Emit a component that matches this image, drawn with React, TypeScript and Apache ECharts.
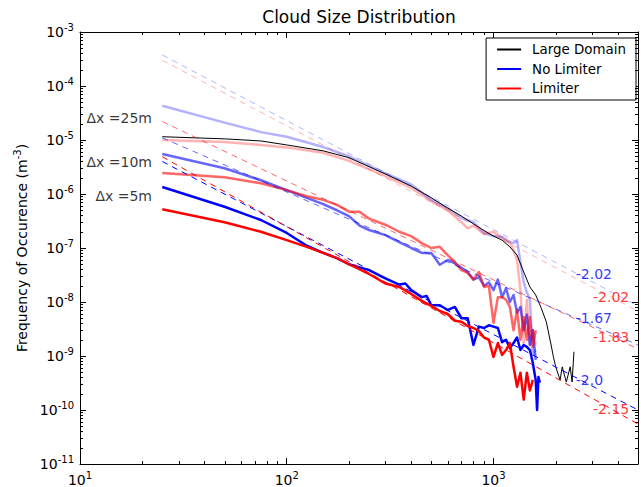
import React, { useEffect, useRef } from 'react';
import * as echarts from 'echarts';

// ---------------- data (x = cloud size, y = frequency of occurrence) ----------------
const largeX = [25, 50, 75, 100, 150, 200, 300, 400, 500, 600, 700, 800, 900, 1000, 1100, 1200, 1300, 1400, 1500, 1600, 1700, 1800, 1900, 1950, 2000, 2100, 2150, 2250, 2350, 2400, 2450];
const largeY = [1.15e-5, 1.05e-5, 9.6e-6, 8.1e-6, 6.3e-6, 4.7e-6, 2.35e-6, 1.4e-6, 8.5e-7, 5.5e-7, 3.9e-7, 2.8e-7, 2.1e-7, 1.66e-7, 1.4e-7, 1.05e-7, 7.4e-8, 3.6e-8, 1.9e-8, 1.35e-8, 7.8e-9, 4.3e-9, 1.6e-9, 9.5e-10, 6.3e-10, 3.6e-10, 6.3e-10, 3.3e-10, 6.3e-10, 3.3e-10, 1.2e-9];

const noLim25X = [25, 50, 75, 100, 150, 200, 300, 400, 500, 600, 700, 800, 900, 1000, 1100, 1200, 1250, 1300, 1350, 1400, 1450, 1500, 1550, 1600];
const noLim25Y = [4.3e-5, 2.1e-5, 1.4e-5, 1.15e-5, 7.4e-6, 5.0e-6, 2.4e-6, 1.5e-6, 7.8e-7, 5.5e-7, 3.6e-7, 3.0e-7, 1.9e-7, 1.66e-7, 1.6e-7, 1.29e-7, 1.23e-7, 1.4e-7, 5.5e-8, 2.3e-8, 1.5e-8, 1.1e-8, 1.05e-9, 1.3e-9];

const lim25X = [25, 50, 75, 100, 150, 200, 300, 400, 500, 600, 700, 750, 800, 900, 1000, 1100, 1200, 1250, 1300, 1350, 1400, 1450, 1500, 1550, 1600];
const lim25Y = [1.0e-5, 9.2e-6, 8.1e-6, 7.3e-6, 5.8e-6, 4.1e-6, 2.15e-6, 1.3e-6, 7.4e-7, 5.0e-7, 3.0e-7, 2.3e-7, 2.6e-7, 1.8e-7, 2.0e-7, 1.55e-7, 1.23e-7, 9.1e-8, 6.0e-8, 1.66e-8, 1.74e-9, 1.1e-8, 1.6e-9, 3.0e-9, 1.6e-9];

const mid10X = [25, 50, 75, 100, 125, 150, 175, 200, 225, 250, 300, 350, 400, 450, 500, 550, 600, 650, 700, 750, 800, 850, 900, 950, 1000, 1050, 1100, 1150, 1200, 1250, 1300, 1350, 1400, 1450, 1500, 1550, 1600];
const noLim10Y = [5.5e-6, 3.0e-6, 1.8e-6, 1.18e-6, 8.5e-7, 6.5e-7, 5.0e-7, 3.9e-7, 2.6e-7, 2.15e-7, 1.73e-7, 1.29e-7, 1.0e-7, 8.1e-8, 8.1e-8, 4.9e-8, 6.0e-8, 5.2e-8, 4.3e-8, 3.6e-8, 2.6e-8, 2.9e-8, 2.0e-8, 2.3e-8, 1.66e-8, 2.6e-8, 1.23e-8, 1.8e-8, 1.0e-8, 1.35e-8, 6.3e-9, 8.1e-9, 3.0e-9, 5.8e-9, 1.6e-9, 3.0e-9, 8.5e-10];
const lim10Y = [2.45e-6, 2.05e-6, 1.58e-6, 1.18e-6, 9.1e-7, 7.8e-7, 6.3e-7, 4.7e-7, 4.7e-7, 3.5e-7, 2.7e-7, 2.0e-7, 1.66e-7, 1.23e-7, 1.0e-7, 1.05e-7, 7.4e-8, 5.5e-8, 3.9e-8, 3.45e-8, 2.6e-8, 3.6e-8, 1.9e-8, 2.0e-8, 4.1e-9, 1.23e-8, 1.23e-8, 1.1e-8, 8.1e-9, 3.0e-9, 7.1e-9, 2.0e-9, 5.3e-9, 2.0e-9, 5.3e-9, 1.48e-9, 3.0e-9];

const noLim5X = [25, 50, 75, 100, 125, 150, 175, 200, 250, 300, 350, 375, 400, 450, 475, 500, 550, 600, 650, 700, 750, 800, 850, 900, 950, 1000, 1050, 1100, 1150, 1200, 1250, 1300, 1350, 1400, 1450, 1500, 1550, 1600, 1625, 1650, 1675];
const noLim5Y = [1.35e-6, 5.8e-7, 3.3e-7, 1.9e-7, 1.1e-7, 8.1e-8, 6.5e-8, 5.0e-8, 3.9e-8, 2.75e-8, 2.1e-8, 2.2e-8, 1.66e-8, 1.23e-8, 1.29e-8, 8.7e-9, 8.7e-9, 7.1e-9, 8.1e-9, 5.0e-9, 5.0e-9, 1.6e-9, 3.5e-9, 3.3e-9, 3.7e-9, 3.5e-9, 3.3e-9, 1.8e-9, 2.0e-9, 1.4e-9, 1.74e-9, 2.2e-9, 1.29e-9, 1.6e-9, 1.48e-9, 1.29e-9, 7.4e-10, 3.6e-10, 1.0e-10, 4.1e-10, 3.2e-10];

const lim5X = [25, 50, 75, 100, 125, 150, 175, 200, 250, 300, 350, 400, 450, 500, 550, 600, 650, 700, 750, 800, 850, 900, 950, 1000, 1050, 1100, 1150, 1200, 1250, 1300, 1350, 1400, 1450, 1500, 1550];
const lim5Y = [5.2e-7, 3.0e-7, 2.0e-7, 1.4e-7, 1.05e-7, 8.1e-8, 6.5e-8, 5.0e-8, 3.3e-8, 2.2e-8, 1.9e-8, 1.41e-8, 1.05e-8, 8.5e-9, 6.8e-9, 6.0e-9, 4.5e-9, 4.3e-9, 3.6e-9, 3.3e-9, 2.9e-9, 2.2e-9, 2.0e-9, 9.6e-10, 1.74e-9, 1.05e-9, 1.29e-9, 1.74e-9, 6.3e-10, 2.7e-10, 4.9e-10, 1.55e-10, 4.9e-10, 2.3e-10, 3.6e-10];

// power-law fits: endpoints at x = 25 and x = 5000
const fitX = [25, 5000];
const fitNoLim25 = [3.76e-4, 8.45e-9];
const fitLim25 = [3.0e-4, 6.76e-9];
const fitNoLim10 = [1.1e-5, 1.6e-9];
const fitLim10 = [2.2e-5, 1.35e-9];
const fitNoLim5 = [4.0e-6, 1.0e-10];
const fitLim5 = [4.9e-6, 5.5e-11];

const slopeLabels = ['-2.02', '-2.02', '-1.67', '-1.83', '-2.0', '-2.15'];
const resolutionLabels = ['\u0394x =25m', '\u0394x =10m', '\u0394x =5m'];

// ---------------- helpers ----------------
const FONT = 'DejaVu Sans';
const X_MIN = 1;
const X_MAX = Math.log10(5000);
const Y_MIN = -11;
const Y_MAX = -3;
const lg = (v: number) => Math.log10(v);
const pairs = (xs: number[], ys: number[]) => xs.map((x, i) => [lg(x), lg(ys[i])]);

const BLUE = ['rgba(0,0,255,0.3)', 'rgba(0,0,255,0.6)', 'rgba(0,0,255,1)'];
const RED = ['rgba(255,0,0,0.3)', 'rgba(255,0,0,0.6)', 'rgba(255,0,0,1)'];

const solid = (name: string, xs: number[], ys: number[], color: string, width: number, z = 2) => ({
  name,
  type: 'line',
  data: pairs(xs, ys),
  showSymbol: false,
  symbol: 'none',
  z,
  lineStyle: { color, width, cap: 'butt', join: 'round' },
  itemStyle: { color },
  emphasis: { disabled: true },
});

const dashed = (name: string, ys: number[], color: string) => ({
  name,
  type: 'line',
  data: pairs(fitX, ys),
  showSymbol: false,
  symbol: 'none',
  z: 4,
  lineStyle: { color, width: 1, type: [6, 5] },
  itemStyle: { color },
  emphasis: { disabled: true },
});

const powLabel = (v: number) => `{b|10}{s|${Math.round(v)}}`;
const labelRich = {
  b: { fontSize: 14, fontFamily: FONT, color: '#000' },
  s: { fontSize: 10, fontFamily: FONT, color: '#000', padding: [0, 0, 9, 0] },
};

const minorXs: number[] = [];
for (let d = 1; d <= 3; d++) for (let m = 2; m <= 9; m++) {
  const v = lg(m * Math.pow(10, d));
  if (v < X_MAX - 1e-6) minorXs.push(v);
}
const minorYs: number[] = [];
for (let d = -11; d <= -4; d++) for (let m = 2; m <= 9; m++) minorYs.push(lg(m * Math.pow(10, d)));

export default function App() {
  const ref = useRef<HTMLDivElement>(null);
  useEffect(() => {
    document.body.style.margin = '0';
    if (!ref.current) return;
    const chart = echarts.init(ref.current, undefined, { renderer: 'svg' });

    const tickStyle = { color: '#000', width: 1 };
    const option: any = {
      animation: false,
      backgroundColor: '#fff',
      title: {
        text: 'Cloud Size Distribution',
        left: 359,
        top: 8,
        padding: 0,
        textAlign: 'center',
        textStyle: { fontFamily: FONT, fontSize: 17, fontWeight: 'normal', color: '#000' },
      },
      grid: { left: 80, right: 3, top: 32, bottom: 23, containLabel: false },
      legend: {
        data: ['Large Domain', 'No Limiter', 'Limiter'],
        orient: 'vertical',
        right: 5,
        top: 38,
        itemWidth: 24,
        itemHeight: 14,
        itemGap: 6.5,
        padding: [5, 10, 5, 10],
        borderColor: '#000',
        borderWidth: 1,
        borderRadius: 0,
        backgroundColor: '#fff',
        selectedMode: false,
        itemStyle: { opacity: 0 },
        textStyle: { fontFamily: FONT, fontSize: 13.4, color: '#000', padding: [0, 0, 0, 6] },
      },
      xAxis: [
        {
          type: 'value', min: X_MIN, max: X_MAX, interval: 1,
          axisLine: { lineStyle: tickStyle },
          axisTick: { inside: true, length: 6, lineStyle: tickStyle },
          splitLine: { show: false },
          axisLabel: { formatter: powLabel, showMaxLabel: false, margin: 6, rich: labelRich },
        },
        {
          type: 'value', position: 'top', min: X_MIN, max: X_MAX, interval: 1,
          axisLine: { lineStyle: tickStyle },
          axisTick: { inside: true, length: 6, lineStyle: tickStyle },
          splitLine: { show: false },
          axisLabel: { show: false },
        },
      ],
      yAxis: [
        {
          type: 'value', min: Y_MIN, max: Y_MAX, interval: 1,
          axisLine: { lineStyle: tickStyle },
          axisTick: { inside: true, length: 6, lineStyle: tickStyle },
          splitLine: { show: false },
          axisLabel: { formatter: powLabel, margin: 6, rich: labelRich },
          name: 'Frequency of Occurence (m{s|-3})',
          nameLocation: 'middle',
          nameRotate: 90,
          nameGap: 44,
          nameTextStyle: {
            fontFamily: FONT, fontSize: 14, color: '#000',
            rich: { s: { fontFamily: FONT, fontSize: 10, color: '#000', padding: [0, 0, 8, 0] } },
          },
        },
        {
          type: 'value', position: 'right', min: Y_MIN, max: Y_MAX, interval: 1,
          axisLine: { lineStyle: tickStyle },
          axisTick: { inside: true, length: 6, lineStyle: tickStyle },
          splitLine: { show: false },
          axisLabel: { show: false },
        },
      ],
      series: [
        solid('No Limiter 25m', noLim25X, noLim25Y, BLUE[0], 2.5),
        solid('Limiter 25m', lim25X, lim25Y, RED[0], 2.5),
        solid('No Limiter 10m', mid10X, noLim10Y, BLUE[1], 2.5),
        solid('Limiter 10m', mid10X, lim10Y, RED[1], 2.5),
        solid('No Limiter', noLim5X, noLim5Y, BLUE[2], 2.5),
        solid('Limiter', lim5X, lim5Y, RED[2], 2.5),
        solid('Large Domain', largeX, largeY, '#000', 1, 3),
        dashed('fit nl25', fitNoLim25, BLUE[0]),
        dashed('fit l25', fitLim25, RED[0]),
        dashed('fit nl10', fitNoLim10, BLUE[1]),
        dashed('fit l10', fitLim10, RED[1]),
        dashed('fit nl5', fitNoLim5, BLUE[2]),
        dashed('fit l5', fitLim5, RED[2]),
        {
          name: 'annotations',
          type: 'scatter',
          symbolSize: 0,
          silent: true,
          z: 6,
          data: [
            { value: [lg(2500), lg(3.3e-8)], label: { color: '#0000ff', formatter: slopeLabels[0] } },
            { value: [lg(3030), lg(1.24e-8)], label: { color: '#ff0000', formatter: slopeLabels[1] } },
            { value: [lg(2500), lg(5.06e-9)], label: { color: '#0000ff', formatter: slopeLabels[2] } },
            { value: [lg(3030), lg(2.25e-9)], label: { color: '#ff0000', formatter: slopeLabels[3] } },
            { value: [lg(2500), lg(3.6e-10)], label: { color: '#0000ff', formatter: slopeLabels[4] } },
            { value: [lg(3030), lg(1.04e-10)], label: { color: '#ff0000', formatter: slopeLabels[5] } },
          ],
          label: { show: true, position: 'right', distance: 0, fontFamily: FONT, fontSize: 14 },
        },
        {
          name: 'resolutions',
          type: 'scatter',
          symbolSize: 0,
          silent: true,
          z: 6,
          data: [
            { value: [lg(22.3), lg(2.55e-5)], label: { formatter: resolutionLabels[0] } },
            { value: [lg(22.3), lg(3.9e-6)], label: { formatter: resolutionLabels[1] } },
            { value: [lg(22.3), lg(9.2e-7)], label: { formatter: resolutionLabels[2] } },
          ],
          label: { show: true, position: 'left', distance: 0, fontFamily: FONT, fontSize: 14, color: '#000' },
        },
        {
          name: 'minorX',
          type: 'custom',
          silent: true,
          clip: false,
          z: 10,
          data: minorXs.map((v) => [v, Y_MIN]),
          renderItem: (_p: any, api: any) => {
            const v = api.value(0);
            const b = api.coord([v, Y_MIN]);
            const t = api.coord([v, Y_MAX]);
            const x = Math.round(b[0]) + 0.5;
            return {
              type: 'group',
              children: [
                { type: 'line', shape: { x1: x, y1: b[1], x2: x, y2: b[1] - 3 }, style: { stroke: '#000', lineWidth: 1 } },
                { type: 'line', shape: { x1: x, y1: t[1], x2: x, y2: t[1] + 3 }, style: { stroke: '#000', lineWidth: 1 } },
              ],
            };
          },
        },
        {
          name: 'minorY',
          type: 'custom',
          silent: true,
          clip: false,
          z: 10,
          data: minorYs.map((v) => [X_MIN, v]),
          renderItem: (_p: any, api: any) => {
            const v = api.value(1);
            const l = api.coord([X_MIN, v]);
            const r = api.coord([X_MAX, v]);
            const y = Math.round(l[1]) + 0.5;
            return {
              type: 'group',
              children: [
                { type: 'line', shape: { x1: l[0], y1: y, x2: l[0] + 3, y2: y }, style: { stroke: '#000', lineWidth: 1 } },
                { type: 'line', shape: { x1: r[0], y1: y, x2: r[0] - 3, y2: y }, style: { stroke: '#000', lineWidth: 1 } },
              ],
            };
          },
        },
      ],
    };
    chart.setOption(option);
    return () => chart.dispose();
  }, []);
  return <div ref={ref} style={{ width: 641, height: 487 }} />;
}
